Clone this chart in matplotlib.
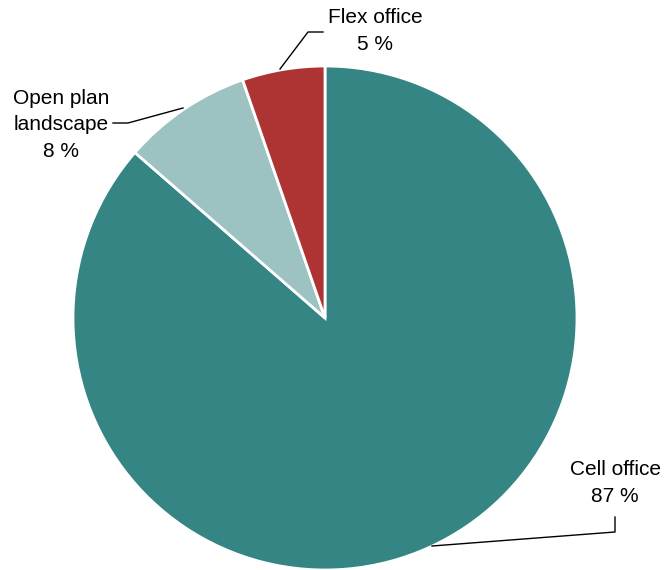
import matplotlib
matplotlib.use('Agg')
import matplotlib.pyplot as plt

# Données
categories = ['Cell office', 'Open plan\nlandscape', 'Flex office']
shares = [86.4, 8.3, 5.3]
labels_pct = ['87 %', '8 %', '5 %']
colors = ['#358585', '#9cc2c2', '#ae3434']

W, H = 665, 570
fig = plt.figure(figsize=(W / 100, H / 100), dpi=100)
ax = fig.add_axes([0, 0, 1, 1])


def p(x, y):
    # coordonnées pixel (origine en haut à gauche) -> coordonnées data
    return x, H - y


ax.pie(shares, colors=colors, startangle=90, counterclock=False,
       center=p(325, 318), radius=252,
       wedgeprops=dict(edgecolor='white', linewidth=2))
ax.set_xlim(0, W)
ax.set_ylim(0, H)
ax.set_aspect('equal')
ax.axis('off')

font = dict(family=['Liberation Sans', 'DejaVu Sans'], fontsize=15,
            ha='center', va='center', linespacing=1.5)

# étiquettes + lignes de rappel
ax.text(*p(615, 483), f'{categories[0]}\n{labels_pct[0]}', **font)
xs, ys = zip(p(432, 546), p(615, 532), p(615, 517))
ax.plot(xs, ys, color='black', lw=1)

ax.text(*p(61, 125), f'{categories[1]}\n{labels_pct[1]}', **font)
xs, ys = zip(p(183, 108), p(128, 123), p(113, 123))
ax.plot(xs, ys, color='black', lw=1)

ax.text(*p(375, 31), f'{categories[2]}\n{labels_pct[2]}', **font)
xs, ys = zip(p(280, 69), p(308, 32), p(323, 32))
ax.plot(xs, ys, color='black', lw=1)

plt.savefig('out.png', dpi=100)
plt.close()
